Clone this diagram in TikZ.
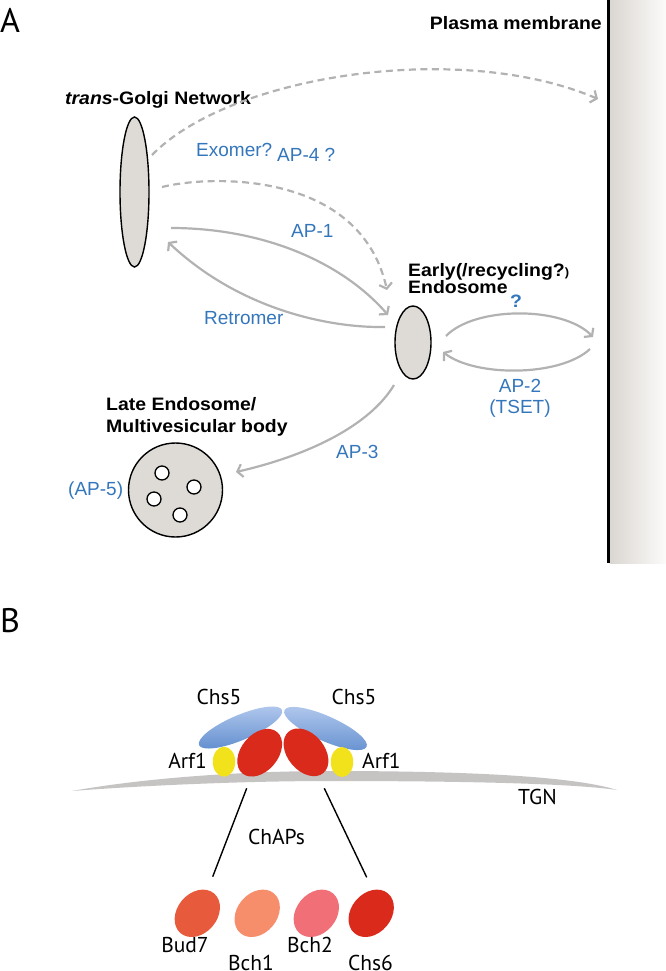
\documentclass[tikz,border=0pt]{standalone}
\usepackage{fontspec}
\usetikzlibrary{arrows.meta,shapes.geometric}
\newfontfamily\hv{Liberation Sans}
\newfontfamily\hvb[FakeStretch=1.08]{Liberation Sans}
\newfontfamily\pts{PT Sans}
\definecolor{arrgray}{RGB}{178,178,178}
\definecolor{apblue}{RGB}{52,118,188}
\definecolor{cellfill}{RGB}{222,219,214}
\definecolor{memgray}{RGB}{218,214,209}
\definecolor{memwhite}{RGB}{252,251,250}
\definecolor{tgnband}{RGB}{198,195,195}
\definecolor{blueL}{RGB}{180,202,238}
\definecolor{blueD}{RGB}{100,144,208}
\definecolor{chred}{RGB}{218,42,28}
\definecolor{arfyel}{RGB}{242,226,28}
\definecolor{budcol}{RGB}{232,90,60}
\definecolor{bchone}{RGB}{246,142,108}
\definecolor{bchtwo}{RGB}{241,112,120}
\tikzset{
  garrow/.style={draw=arrgray, line width=2.2pt, -{Straight Barb[length=5pt,width=13pt]}},
  gdash/.style={garrow, dash pattern=on 7pt off 4.5pt},
  organelle/.style={ellipse, draw=black, line width=1.4pt, fill=cellfill, inner sep=0pt},
  vesicle/.style={circle, draw=black, line width=1.3pt, fill=white, inner sep=0pt, minimum size=14pt},
  lbl/.style={inner sep=0pt, font=\hvb\fontsize{18}{18}\selectfont\bfseries},
  blu/.style={inner sep=0pt, text=apblue, font=\hv\fontsize{19}{19}\selectfont},
  btxt/.style={inner sep=0pt, font=\pts\fontsize{21.5}{21.5}\selectfont},
  panel/.style={inner sep=0pt, font=\pts\fontsize{34}{34}\selectfont},
  prot/.style={ellipse, inner sep=0pt},
}
\begin{document}
\begin{tikzpicture}[x=1pt,y=-1pt]
\useasboundingbox (0,0) rectangle (666,971);
% ---------- Panel A ----------
\node[panel, anchor=base west] (labA) at (0,33) {A};
\shade[left color=memgray, right color=memwhite] (609.5,0) rectangle (666,563);
\coordinate (pmT) at (608.5,0);
\coordinate (pmB) at (608.5,563);
\draw[line width=2.2pt] (pmT) -- (pmB);
\node[lbl, anchor=base east] (pmlab) at (602,30) {Plasma membrane};

\node[organelle, minimum width=29pt, minimum height=150pt] (tgn) at (134.5,192) {};
\node[lbl, anchor=base west] (tgnlab) at (65,105) {{\itshape trans}-Golgi Network};

\node[organelle, minimum width=36pt, minimum height=73pt] (ee) at (413,342.5) {};
\node[lbl, anchor=base west] (eelab1) at (408,276) {Early(/recycling?{\fontsize{12}{12}\selectfont)}};
\node[lbl, anchor=base west] (eelab2) at (408,293) {Endosome};

\node[circle, draw=black, line width=1.4pt, fill=cellfill, minimum size=94pt, inner sep=0pt] (mvb) at (175.5,490) {};
\node[vesicle] (v1) at (162,473) {};
\node[vesicle] (v2) at (194,487) {};
\node[vesicle] (v3) at (154,499) {};
\node[vesicle] (v4) at (180,515) {};
\node[lbl, anchor=base west] (mvblab1) at (106,410.7) {Late Endosome/};
\node[lbl, anchor=base west] (mvblab2) at (106,432.7) {Multivesicular body};

% arrow end points
\coordinate (t1) at (152,155);
\coordinate (p1) at (598,99);
\coordinate (t2) at (162,187);
\coordinate (e2) at (387,290);
\coordinate (t3) at (171,228);
\coordinate (e3) at (388,315);
\coordinate (e4) at (385,327);
\coordinate (t4) at (168,242);
\coordinate (e5) at (446,336);
\coordinate (p5) at (593,337);
\coordinate (p6) at (590,349);
\coordinate (e6) at (443,352);
\coordinate (e7) at (394,385);
\coordinate (m7) at (236,472);

\draw[gdash] (t1) .. controls (230,75) and (460,40) .. (p1);
\draw[gdash] (t2) .. controls (210,175) and (360,170) .. (e2);
\draw[garrow] (t3) .. controls (260,228) and (340,260) .. (e3);
\draw[garrow] (e4) .. controls (330,328) and (240,310) .. (t4);
\draw[garrow] (e5) .. controls (475,306) and (563,306) .. (p5);
\draw[garrow] (p6) .. controls (560,377) and (475,377) .. (e6);
\draw[garrow] (e7) .. controls (370,425) and (310,455) .. (m7);

\node[blu, anchor=base west] (exo) at (196,157) {Exomer?};
\node[blu, anchor=base west] (ap4) at (277,161) {AP-4 ?};
\node[blu, anchor=base west] (ap1) at (291,237) {AP-1};
\node[blu, anchor=base west] (retro) at (204,324) {Retromer};
\node[blu, anchor=base, font=\hvb\fontsize{18}{18}\selectfont\bfseries] (qm) at (516,307) {?};
\node[blu, anchor=base] (ap2) at (520,392) {AP-2};
\node[blu, anchor=base] (tset) at (520,413) {(TSET)};
\node[blu, anchor=base west] (ap3) at (336,458) {AP-3};
\node[blu, anchor=base west] (ap5) at (68,495) {(AP-5)};

% ---------- Panel B ----------
\node[panel, anchor=base west] (labB) at (0,632) {B};

\fill[tgnband] (72,791) .. controls (150,777) and (250,771) .. (330,771)
  .. controls (450,771) and (570,775) .. (617,790)
  .. controls (570,783) and (450,781) .. (330,781)
  .. controls (250,781) and (150,785) .. (72,791) -- cycle;
\node[btxt, anchor=base west] (tgnB) at (518,804) {TGN};

\node[prot, minimum width=90pt, minimum height=25pt, rotate=23, top color=blueL, bottom color=blueD] (chsL) at (240.5,727.5) {};
\node[prot, minimum width=90pt, minimum height=25pt, rotate=-24, top color=blueL, bottom color=blueD] (chsR) at (325.5,728.5) {};
\node[prot, minimum width=54pt, minimum height=37pt, rotate=50, fill=chred] (redL) at (259.7,752.7) {};
\node[prot, minimum width=54pt, minimum height=37pt, rotate=-50, fill=chred] (redR) at (306,752.3) {};
\node[prot, minimum width=22.5pt, minimum height=30pt, fill=arfyel] (arfL) at (224,761.7) {};
\node[prot, minimum width=22.5pt, minimum height=30pt, fill=arfyel] (arfR) at (342,762) {};

\node[btxt, anchor=base] (chs5L) at (219,704) {Chs5};
\node[btxt, anchor=base] (chs5R) at (354,704) {Chs5};
\node[btxt, anchor=base east] (arf1L) at (207,768) {Arf1};
\node[btxt, anchor=base west] (arf1R) at (362,768) {Arf1};

\coordinate (lA1) at (246.7,788.3);
\coordinate (lA2) at (212.7,876.7);
\coordinate (lB1) at (324.3,788.3);
\coordinate (lB2) at (366.7,877.3);
\draw[line width=1.4pt] (lA1) -- (lA2);
\draw[line width=1.4pt] (lB1) -- (lB2);
\node[btxt, anchor=base] (chaps) at (276.5,844) {ChAPs};

\node[prot, minimum width=52pt, minimum height=40pt, rotate=50, fill=budcol] (bud7) at (197.3,913.3) {};
\node[prot, minimum width=52pt, minimum height=40pt, rotate=50, fill=bchone] (bch1) at (257.2,913.3) {};
\node[prot, minimum width=52pt, minimum height=40pt, rotate=50, fill=bchtwo] (bch2) at (316.3,913.3) {};
\node[prot, minimum width=52pt, minimum height=40pt, rotate=50, fill=chred] (chs6) at (371.2,913.3) {};
\node[btxt, anchor=base] (bud7l) at (185,952) {Bud7};
\node[btxt, anchor=base] (bch1l) at (251,970) {Bch1};
\node[btxt, anchor=base] (bch2l) at (310,952) {Bch2};
\node[btxt, anchor=base] (chs6l) at (370.5,970) {Chs6};
\end{tikzpicture}
\end{document}
